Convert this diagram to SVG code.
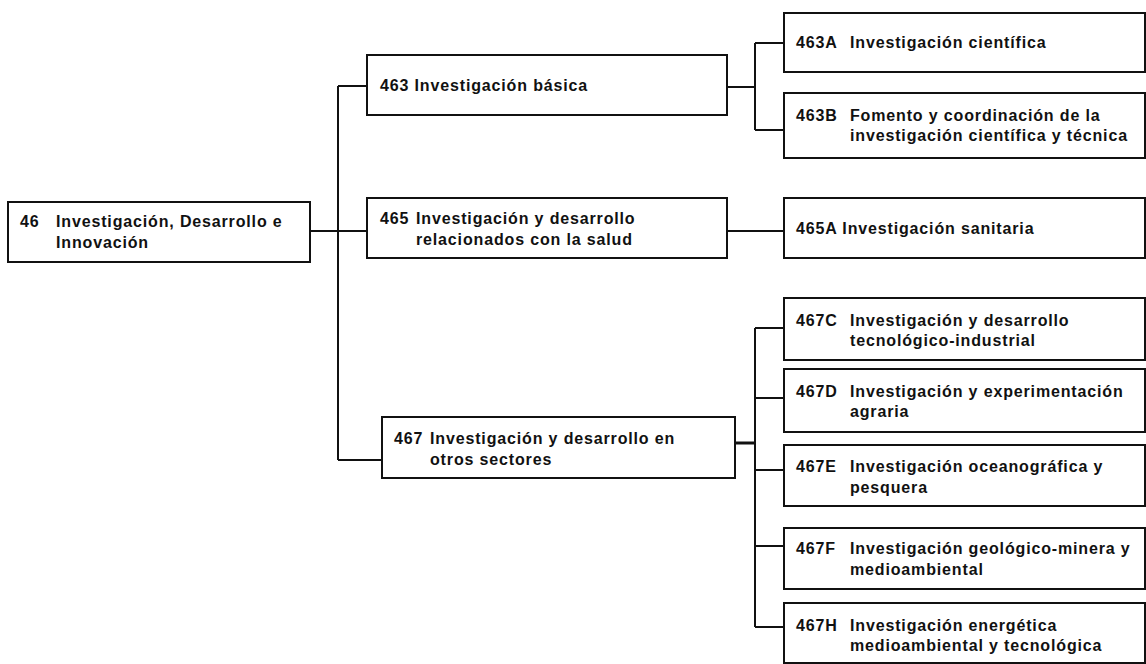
<svg xmlns="http://www.w3.org/2000/svg" width="1146" height="664" viewBox="0 0 1146 664">
<style>
.box{fill:#fff;stroke:#111;stroke-width:2}
.c{fill:none;stroke:#111;stroke-width:2}
text{font-family:"Liberation Sans",Arial,sans-serif;font-size:16px;font-weight:bold;fill:#111;letter-spacing:0.85px}
</style>
<rect width="1146" height="664" fill="#fff"/>
<g id="connectors">
<path class="c" d="M310 231H338M338 86V460M338 86H367M338 231H367M338 460H382"/>
<path class="c" d="M727 87H755M755 43V130M755 43H784M755 130H784"/>
<path class="c" d="M727 231H784"/>
<path class="c" d="M735 443H755" style="stroke-width:3"/>
<path class="c" d="M755 328V627M755 328H784M755 398H784M755 470H784M755 546H784M755 627H784"/>
</g>
<g id="n46"><rect class="box" x="8" y="202" width="302" height="60"/><text x="20" y="227">46</text><text x="56" y="227">Investigación, Desarrollo e</text><text x="56" y="248">Innovación</text></g>
<g id="n463"><rect class="box" x="367" y="55" width="360" height="60"/><text x="380" y="91">463 Investigación básica</text></g>
<g id="n465"><rect class="box" x="367" y="198" width="360" height="60"/><text x="380" y="224">465</text><text x="416" y="224">Investigación y desarrollo</text><text x="416" y="245">relacionados con la salud</text></g>
<g id="n467"><rect class="box" x="382" y="417" width="353" height="61"/><text x="394" y="444">467</text><text x="430" y="444">Investigación y desarrollo en</text><text x="430" y="465">otros sectores</text></g>
<g id="n463A"><rect class="box" x="784" y="13" width="361" height="59"/><text x="796" y="48">463A</text><text x="850" y="48">Investigación científica</text></g>
<g id="n463B"><rect class="box" x="784" y="93" width="361" height="65"/><text x="796" y="121">463B</text><text x="850" y="121">Fomento y coordinación de la</text><text x="850" y="141">investigación científica y técnica</text></g>
<g id="n465A"><rect class="box" x="784" y="198" width="361" height="60"/><text x="796" y="234">465A Investigación sanitaria</text></g>
<g id="n467C"><rect class="box" x="784" y="298" width="361" height="62"/><text x="796" y="326">467C</text><text x="850" y="326">Investigación y desarrollo</text><text x="850" y="346">tecnológico-industrial</text></g>
<g id="n467D"><rect class="box" x="784" y="369" width="361" height="63"/><text x="796" y="397">467D</text><text x="850" y="397">Investigación y experimentación</text><text x="850" y="417">agraria</text></g>
<g id="n467E"><rect class="box" x="784" y="445" width="361" height="61"/><text x="796" y="472">467E</text><text x="850" y="472">Investigación oceanográfica y</text><text x="850" y="493">pesquera</text></g>
<g id="n467F"><rect class="box" x="784" y="528" width="361" height="61"/><text x="796" y="554">467F</text><text x="850" y="554">Investigación geológico-minera y</text><text x="850" y="575">medioambiental</text></g>
<g id="n467H"><rect class="box" x="784" y="603" width="361" height="60"/><text x="796" y="631">467H</text><text x="850" y="631">Investigación energética</text><text x="850" y="651">medioambiental y tecnológica</text></g>
</svg>
